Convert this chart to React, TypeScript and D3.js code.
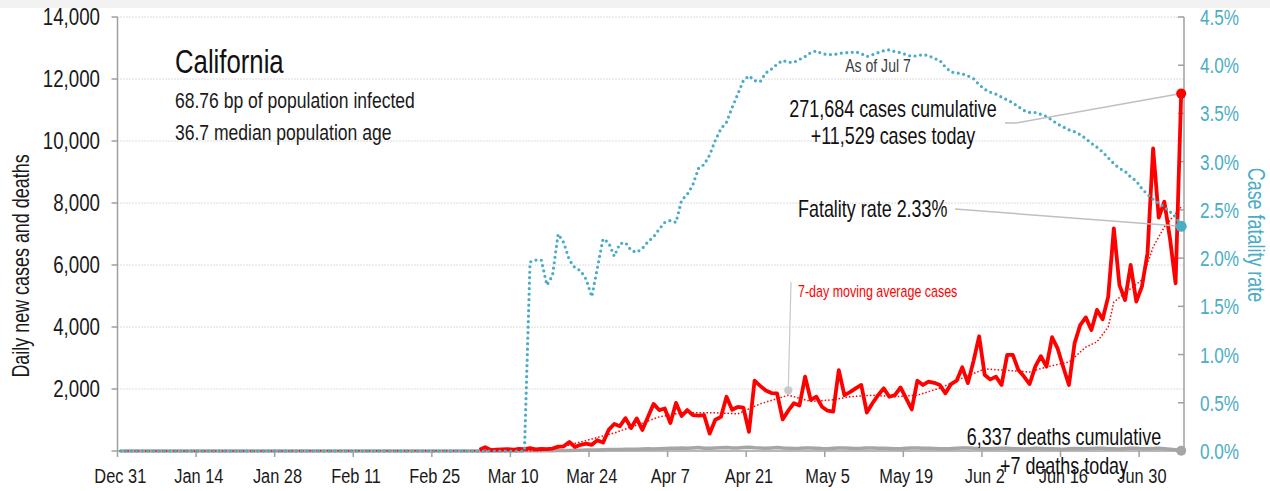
import * as d3 from 'd3';
import type { ReactNode } from 'react';

// values (California, to Jul 7)
const X_TICK_DATES = [
  '2019-12-31', '2020-01-14', '2020-01-28', '2020-02-11', '2020-02-25', '2020-03-10', '2020-03-24',
  '2020-04-07', '2020-04-21', '2020-05-05', '2020-05-19', '2020-06-02', '2020-06-16', '2020-06-30',
];
const CASE_TICKS = [2000, 4000, 6000, 8000, 10000, 12000, 14000];
const CFR_TICKS = [0, 0.5, 1, 1.5, 2, 2.5, 3, 3.5, 4, 4.5];

const AXIS_START = '2019-12-31';
const AXIS_END = '2020-07-08';

// daily new cases, one value per day from CASES_START
const CASES_START = '2020-03-04';
const cases = [
  40, 120, 30, 40, 50, 60, 40, 70, 60, 90,
  50, 70, 60, 80, 140, 150, 290, 130, 200, 240,
  200, 350, 270, 680, 870, 800, 1060, 740, 1050, 680,
  1100, 1520, 1320, 1370, 900, 1550, 1130, 1320, 1160, 1140,
  1160, 560, 1010, 1100, 1750, 1330, 1420, 1400, 620, 2270,
  2100, 1950, 1870, 1860, 1020, 1300, 1540, 1470, 2400, 1650,
  1750, 1430, 1300, 1270, 2610, 1800, 1900, 2020, 2130, 1240,
  1540, 1800, 2020, 1750, 1800, 2050, 1700, 1340, 2270, 2130,
  2240, 2200, 2130, 1860, 2160, 2270, 2700, 2190, 2900, 3700,
  2450, 2310, 2400, 2130, 3100, 3100, 2610, 2400, 2160, 2720,
  3060, 2720, 3670, 3300, 2700, 2130, 3470, 4060, 4310, 3900,
  4550, 4250, 4980, 7180, 5350, 4870, 6000, 4820, 5300, 6380,
  9760, 7530, 8040, 6860, 5410, 11529,
];

// daily new deaths, from DEATHS_START (zero before)
const DEATHS_START = '2020-03-04';
const deaths = [
  1, 0, 2, 1, 3, 2, 4, 3, 5, 6,
  8, 7, 10, 12, 14, 18, 20, 24, 28, 30,
  35, 32, 40, 45, 50, 48, 55, 60, 58, 62,
  70, 65, 75, 80, 85, 90, 95, 88, 100, 110,
  90, 85, 95, 105, 115, 100, 95, 110, 120, 105,
  95, 85, 100, 110, 95, 90, 80, 85, 95, 100,
  90, 80, 75, 85, 95, 100, 90, 80, 85, 95,
  100, 90, 85, 80, 75, 70, 85, 95, 100, 90,
  85, 80, 70, 75, 80, 90, 100, 95, 85, 80,
  75, 70, 80, 90, 85, 75, 70, 65, 75, 85,
  80, 75, 70, 65, 60, 70, 80, 75, 70, 80,
  90, 85, 75, 70, 65, 80, 90, 85, 75, 70,
  80, 85, 75, 60, 40, 7,
];

// 7-day moving average of cases, read at these dates
const maDates = [
  '2019-12-31', '2020-03-15', '2020-03-18', '2020-03-28', '2020-04-02', '2020-04-05', '2020-04-09',
  '2020-04-15', '2020-04-19', '2020-04-23', '2020-04-28', '2020-05-02', '2020-05-06', '2020-05-09',
  '2020-05-13', '2020-05-17', '2020-05-21', '2020-05-25', '2020-05-29', '2020-06-02', '2020-06-05',
  '2020-06-10', '2020-06-13', '2020-06-17', '2020-06-20', '2020-06-22', '2020-06-24', '2020-06-25',
  '2020-06-27', '2020-06-30', '2020-07-02', '2020-07-04', '2020-07-07',
];
const maValues = [
  0, 10, 100, 580, 900, 1100, 1230,
  1230, 1200, 1520, 1800, 1600, 1650, 1750,
  1800, 1750, 1800, 2030, 2350, 2650, 2610,
  2550, 2710, 2870, 3350, 3520, 4000, 4800,
  5100, 5520, 6580, 7230, 7870,
];

// case fatality rate (%), one value per day from CFR_START (zero before)
const CFR_START = '2020-03-12';
const cfr = [
  0, 1.96, 1.98, 1.98, 1.72, 1.82, 2.25, 2.16, 1.98, 1.9,
  1.87, 1.78, 1.6, 1.9, 2.2, 2.16, 2.02, 2.15, 2.16, 2.08,
  2.06, 2.1, 2.17, 2.22, 2.3, 2.37, 2.39, 2.37, 2.6, 2.66,
  2.76, 2.93, 2.97, 3.07, 3.22, 3.34, 3.41, 3.56, 3.7, 3.84,
  3.89, 3.84, 3.83, 3.92, 3.96, 4.01, 4.05, 4.03, 4.03, 4.06,
  4.09, 4.13, 4.15, 4.12, 4.11, 4.11, 4.12, 4.13, 4.13, 4.14,
  4.12, 4.09, 4.11, 4.13, 4.15, 4.16, 4.14, 4.13, 4.11, 4.09,
  4.1, 4.11, 4.1, 4.07, 4.05, 3.98, 3.93, 3.92, 3.91, 3.89,
  3.86, 3.8, 3.75, 3.72, 3.7, 3.67, 3.64, 3.61, 3.57, 3.53,
  3.51, 3.51, 3.49, 3.47, 3.43, 3.39, 3.36, 3.33, 3.31, 3.28,
  3.24, 3.19, 3.15, 3.1, 3.04, 2.98, 2.93, 2.9, 2.84, 2.8,
  2.72, 2.66, 2.61, 2.57, 2.53, 2.48, 2.43, 2.33,
];

const MA_LABEL_DATE = '2020-04-28';
const MA_LABEL_VALUE = 1960;

// no condensed face is installed, so squeeze Liberation Sans horizontally
const FONT = '"Liberation Sans", Arial, sans-serif';
const SQUEEZE = 0.78;
const RED = '#ff0000';
const BLUE = '#4bacc6';
const GRAY = '#a6a6a6';
const TEXT = '#1a1a1a';

type Pt = { date: Date; v: number };

const parse = d3.timeParse('%Y-%m-%d');
const day = (s: string) => parse(s) as Date;
const noon = (d: Date) => d3.timeHour.offset(d, 12);

function daily(start: string, values: number[]): Pt[] {
  const s = day(start);
  return values.map((v, i) => ({ date: d3.timeDay.offset(s, i), v }));
}

function withLeadIn(start: string, values: number[]): Pt[] {
  const s = day(start);
  return [{ date: day(AXIS_START), v: 0 }, { date: d3.timeDay.offset(s, -1), v: 0 }, ...daily(start, values)];
}

function Label({ x, y, size, anchor = 'start', fill = TEXT, rotate = 0, children }: {
  x: number; y: number; size: number; anchor?: 'start' | 'middle' | 'end'; fill?: string; rotate?: number; children: ReactNode;
}) {
  return (
    <g transform={`translate(${x},${y}) rotate(${rotate}) scale(${SQUEEZE},1)`}>
      <text fontSize={size} textAnchor={anchor} fill={fill}>{children}</text>
    </g>
  );
}

export default function App() {
  const width = 1270;
  const height = 491;
  const left = 117.5;
  const right = 1184;
  const top = 17;
  const bottom = 451;

  const x = d3.scaleTime().domain([day(AXIS_START), day(AXIS_END)]).range([left, right]);
  const y = d3.scaleLinear().domain([0, 14000]).range([bottom, top]);
  const yR = d3.scaleLinear().domain([0, 4.5]).range([bottom, top]);

  const caseSeries = daily(CASES_START, cases);
  const deathSeries = withLeadIn(DEATHS_START, deaths);
  const cfrSeries = withLeadIn(CFR_START, cfr);
  const maSeries: Pt[] = maDates.map((d, i) => ({ date: day(d), v: maValues[i] }));

  const line = d3.line<Pt>().x((d) => x(noon(d.date))).y((d) => y(d.v));
  const lineR = d3.line<Pt>().x((d) => x(noon(d.date))).y((d) => yR(d.v));

  const lastCase = caseSeries[caseSeries.length - 1];
  const lastDeath = deathSeries[deathSeries.length - 1];
  const lastCfr = cfrSeries[cfrSeries.length - 1];
  const cx = x(noon(lastCase.date));
  const caseY = y(lastCase.v);
  const cfrY = yR(lastCfr.v);
  const maDotX = x(noon(day(MA_LABEL_DATE)));
  const maDotY = y(MA_LABEL_VALUE);

  return (
    <svg width={width} height={height} style={{ position: 'absolute', left: 0, top: 0, fontFamily: FONT, background: '#fff' }}>
      <rect x={0} y={0} width={width} height={8} fill="#f2f2f2" />

      {/* gridlines */}
      {CASE_TICKS.map((t) => (
        <line key={t} x1={left} x2={right} y1={y(t)} y2={y(t)} stroke="#b8b8b8" strokeWidth={1} strokeDasharray="1 2" />
      ))}

      {/* left axis */}
      <line x1={left} x2={left} y1={top} y2={bottom} stroke="#a0a0a0" strokeWidth={1.5} />
      {[0, ...CASE_TICKS].map((t) => (
        <line key={t} x1={left - 6} x2={left} y1={y(t)} y2={y(t)} stroke="#a0a0a0" strokeWidth={1.5} />
      ))}
      {CASE_TICKS.map((t) => (
        <Label key={t} x={100} y={y(t) + 8} size={24} anchor="end">{d3.format(',')(t)}</Label>
      ))}
      <Label x={29} y={266} size={23} anchor="middle" rotate={-90}>Daily new cases and deaths</Label>

      {/* right axis */}
      <line x1={right} x2={right} y1={top} y2={bottom} stroke="#a0a0a0" strokeWidth={1.5} />
      {CFR_TICKS.map((t) => (
        <line key={t} x1={right - 6} x2={right} y1={yR(t)} y2={yR(t)} stroke="#a0a0a0" strokeWidth={1.5} />
      ))}
      {CFR_TICKS.map((t) => (
        <Label key={t} x={1200} y={yR(t) + 8} size={22} fill={BLUE}>{`${t.toFixed(1)}%`}</Label>
      ))}
      <Label x={1248} y={235} size={23} anchor="middle" rotate={90} fill={BLUE}>Case fatality rate</Label>

      {/* x axis */}
      <line x1={left} x2={right} y1={bottom} y2={bottom} stroke="#a0a0a0" strokeWidth={1.5} />
      {X_TICK_DATES.map((d) => (
        <line key={d} x1={x(day(d))} x2={x(day(d))} y1={bottom} y2={bottom + 6} stroke="#a0a0a0" strokeWidth={1.5} />
      ))}
      {X_TICK_DATES.map((d) => (
        <Label key={d} x={x(noon(day(d)))} y={483} size={21} anchor="middle">{d3.timeFormat('%b %-d')(day(d))}</Label>
      ))}

      {/* series */}
      <path d={line(deathSeries) ?? ''} fill="none" stroke={GRAY} strokeWidth={3.5} strokeLinejoin="round" />
      <path d={line(maSeries) ?? ''} fill="none" stroke={RED} strokeWidth={1.5} strokeDasharray="1.5 2" />
      <path d={line(caseSeries) ?? ''} fill="none" stroke={RED} strokeWidth={3.8} strokeLinejoin="round" />
      <path d={lineR(cfrSeries) ?? ''} fill="none" stroke={BLUE} strokeWidth={3.2} strokeDasharray="0 5.5" strokeLinecap="round" />

      {/* leaders and end markers */}
      <polyline points={`1005,123 1016,123 ${cx},${caseY}`} fill="none" stroke="#bfbfbf" strokeWidth={1.5} />
      <line x1={955} y1={209} x2={cx} y2={cfrY} stroke="#bfbfbf" strokeWidth={1.5} />
      <line x1={791} y1={282} x2={maDotX} y2={maDotY} stroke="#c8c8c8" strokeWidth={1.2} />
      <circle cx={maDotX} cy={maDotY} r={4} fill="#c8c8c8" />
      <circle cx={cx} cy={caseY} r={5} fill={RED} />
      <circle cx={cx} cy={cfrY} r={5.5} fill={BLUE} />
      <circle cx={x(noon(lastDeath.date))} cy={y(lastDeath.v)} r={5} fill={GRAY} />

      {/* text */}
      <Label x={175} y={72.5} size={33} fill="#111">California</Label>
      <Label x={175} y={108} size={22.5}>68.76 bp of population infected</Label>
      <Label x={175} y={140} size={22.5}>36.7 median population age</Label>

      <Label x={878} y={71.5} size={18} anchor="middle" fill="#404040">As of Jul 7</Label>
      <Label x={893} y={117} size={23} anchor="middle" fill="#111">271,684 cases cumulative</Label>
      <Label x={893} y={144} size={23} anchor="middle" fill="#111">+11,529 cases today</Label>
      <Label x={798} y={216.5} size={23} fill="#111">Fatality rate 2.33%</Label>
      <Label x={798} y={296.5} size={16} fill={RED}>7-day moving average cases</Label>
      <Label x={1064} y={445} size={23} anchor="middle" fill="#111">6,337 deaths cumulative</Label>
      <Label x={1064} y={474} size={23} anchor="middle" fill="#111">+7 deaths today</Label>
    </svg>
  );
}
